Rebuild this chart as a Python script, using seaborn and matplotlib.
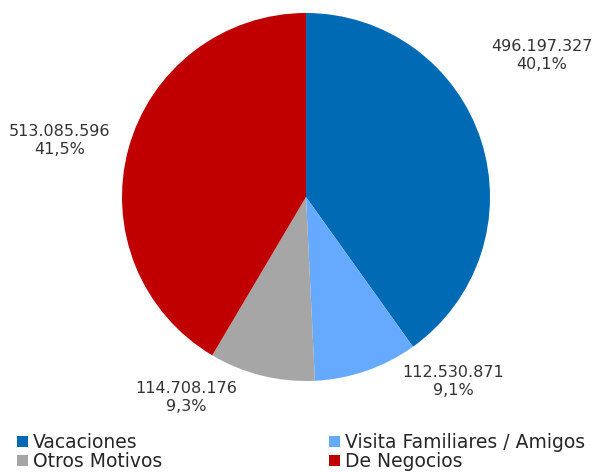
import matplotlib
matplotlib.use("Agg")
import matplotlib.pyplot as plt
import seaborn as sns
from matplotlib.patches import Patch

sns.set_style("white")
plt.rcParams['font.family'] = ['DejaVu Sans']

categories = ['Vacaciones', 'Visita Familiares / Amigos', 'Otros Motivos', 'De Negocios']
values = [496197327, 112530871, 114708176, 513085596]
value_labels = ['496.197.327', '112.530.871', '114.708.176', '513.085.596']
pct_labels = ['40,1%', '9,1%', '9,3%', '41,5%']
colors = ['#006AB4', '#66AAFF', '#A6A6A6', '#C00000']

# label positions (in radius units), tuned to the reference
label_pos = [(1.28, 0.77), (0.80, -1.005), (-0.65, -1.09), (-1.34, 0.305)]

fig = plt.figure(figsize=(5.95, 4.72), dpi=100)
ax = fig.add_axes([(306 - 184) / 595, (472 - 381) / 472, 368 / 595, 368 / 472])

wedges, _ = ax.pie(values, colors=colors, startangle=90, counterclock=False,
                   radius=1, wedgeprops=dict(linewidth=0))
ax.set_xlim(-1, 1)
ax.set_ylim(-1, 1)
ax.set_aspect('equal')

for (x, y), v, p in zip(label_pos, value_labels, pct_labels):
    ax.text(x, y, v + '\n' + p, ha='center', va='center', fontsize=11.5,
            color='#333333', linespacing=1.25)

# legend: row 1 Vacaciones | Visita, row 2 Otros | Negocios
order = [0, 2, 1, 3]
handles = [Patch(facecolor=colors[i], edgecolor='none') for i in order]
labels = [categories[i] for i in order]
fig.legend(handles, labels, ncol=2, loc='lower left',
           bbox_to_anchor=(0.016, -0.014), frameon=False, fontsize=13.5,
           handlelength=0.6, handleheight=0.6, handletextpad=0.25,
           labelspacing=0.0, columnspacing=8.9, borderaxespad=0)

fig.savefig('out.png', dpi=100)
